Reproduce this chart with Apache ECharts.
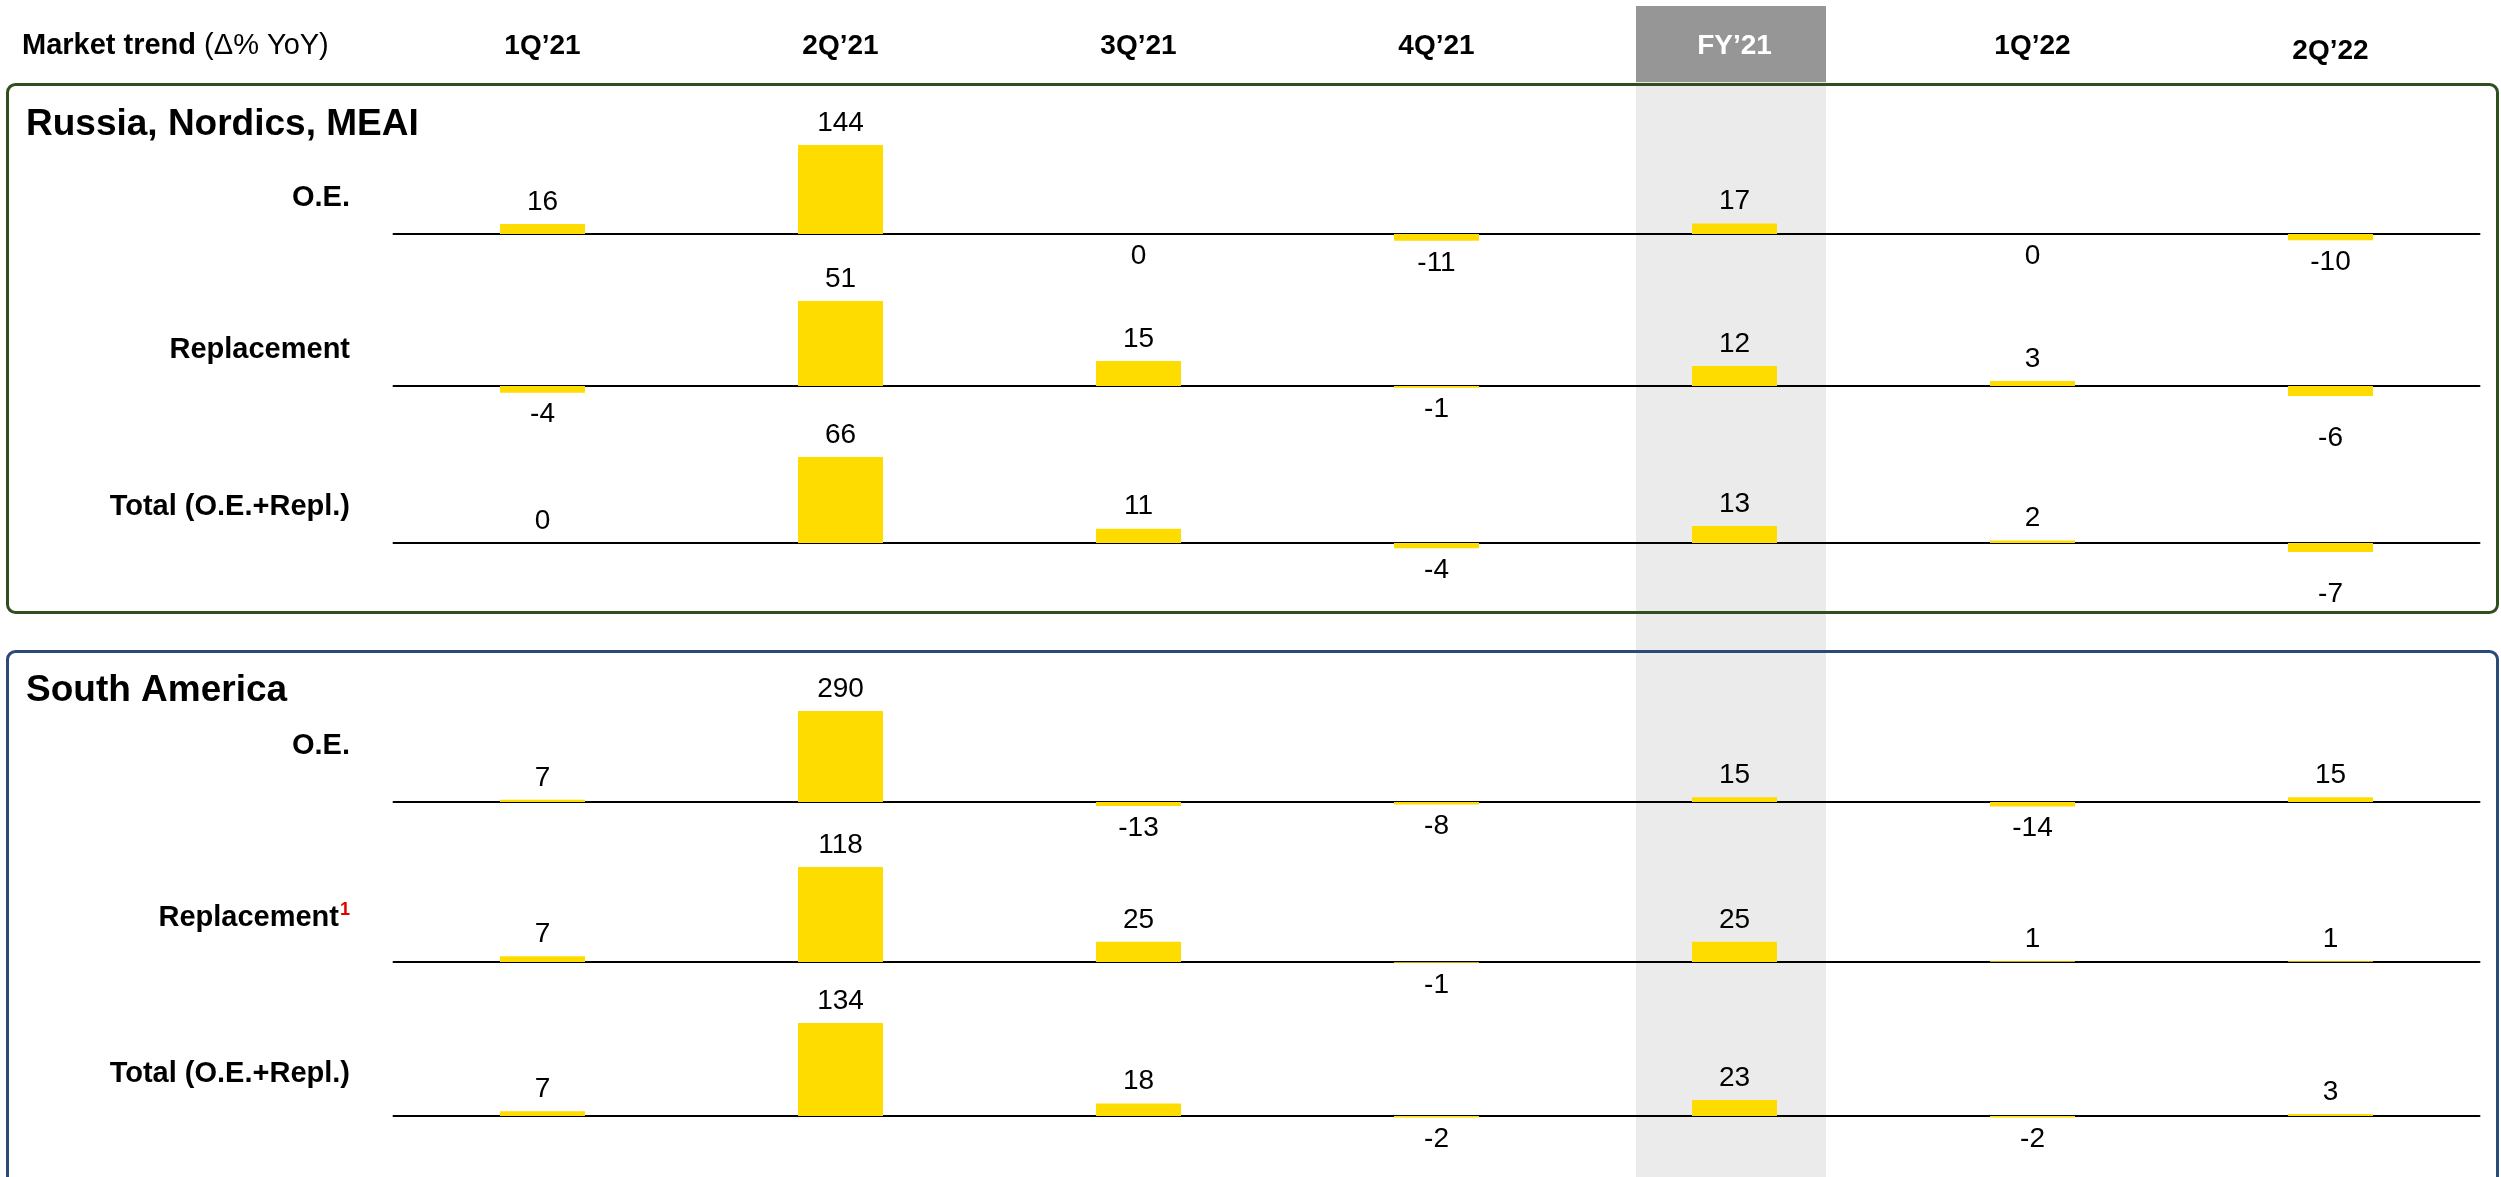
<!DOCTYPE html>
<html>
<head>
<meta charset="utf-8">
<script src="https://cdn.jsdelivr.net/npm/echarts@6/dist/echarts.min.js"></script>
<style>
  html, body { margin: 0; padding: 0; background: #ffffff; }
  #chart { width: 2501px; height: 1177px; }
</style>
</head>
<body>
<div id="chart"></div>
<script>
// Periods shown across the top
const categories = ['1Q’21', '2Q’21', '3Q’21', '4Q’21', 'FY’21', '1Q’22', '2Q’22'];

// Russia, Nordics, MEAI  (Δ% YoY)
const rnmOE = [16, 144, 0, -11, 17, 0, -10];
const rnmReplacement = [-4, 51, 15, -1, 12, 3, -6];
const rnmTotal = [0, 66, 11, -4, 13, 2, -7];

// South America  (Δ% YoY)
const saOE = [7, 290, -13, -8, 15, -14, 15];
const saReplacement = [7, 118, 25, -1, 25, 1, 1];
const saTotal = [7, 134, 18, -2, 23, -2, 3];

const FONT = '"Liberation Sans", Arial, Helvetica, sans-serif';
const BAR_COLOR = '#FFDC00';
const PLOT_LEFT = 393.5;
const PLOT_WIDTH = 2086;
const ROOM_BELOW = 60;

// Each row is its own small chart: zero line y, pixel height of its tallest bar,
// caption and caption position, plus an optional extra drop for some value labels.
const rows = [
  { data: rnmOE,          zero: 234,  tall: 89, caption: 'O.E.',               captionY: 198, zeroBelow: true },
  { data: rnmReplacement, zero: 386,  tall: 85, caption: 'Replacement',        captionY: 350, drop: { 6: 20 } },
  { data: rnmTotal,       zero: 543,  tall: 86, caption: 'Total (O.E.+Repl.)', captionY: 507, drop: { 6: 20 } },
  { data: saOE,           zero: 802,  tall: 91, caption: 'O.E.',               captionY: 746 },
  { data: saReplacement,  zero: 962,  tall: 95, caption: 'Replacement',        captionY: 918, note: '1' },
  { data: saTotal,        zero: 1116, tall: 93, caption: 'Total (O.E.+Repl.)', captionY: 1074 }
];

const grids = [], xAxes = [], yAxes = [], series = [];

rows.forEach((row, i) => {
  const vmax = Math.max(...row.data.map(v => Math.abs(v)));
  grids.push({
    left: PLOT_LEFT, width: PLOT_WIDTH,
    top: row.zero - row.tall, height: row.tall + ROOM_BELOW,
    containLabel: false
  });
  xAxes.push({
    type: 'category', gridIndex: i, data: categories,
    axisLine: { show: true, onZero: true, lineStyle: { color: '#000000', width: 2 } },
    axisTick: { show: false }, axisLabel: { show: false }, splitLine: { show: false }
  });
  yAxes.push({
    type: 'value', gridIndex: i, show: false,
    min: -vmax * ROOM_BELOW / row.tall, max: vmax,
    splitLine: { show: false }
  });
  series.push({
    type: 'bar', xAxisIndex: i, yAxisIndex: i,
    barWidth: 85,
    itemStyle: { color: BAR_COLOR },
    label: {
      show: true, fontFamily: FONT, fontSize: 28, color: '#000000', distance: 8
    },
    data: row.data.map((v, k) => {
      const label = { position: (v < 0 || (v === 0 && row.zeroBelow)) ? 'bottom' : 'top' };
      if (row.drop && row.drop[k]) label.offset = [0, row.drop[k]];
      return { value: v, label: label };
    }),
    z: 3
  });
});

// Column headings along the top
grids.push({ left: PLOT_LEFT, width: PLOT_WIDTH, top: 46, height: 1 });
xAxes.push({
  type: 'category', gridIndex: rows.length, data: categories, position: 'top',
  axisLine: { show: false }, axisTick: { show: false },
  axisLabel: {
    show: true, margin: 0, verticalAlign: 'middle',
    formatter: (val, idx) => idx === 4 ? '{w|' + val + '}' : (idx === 6 ? '{d|' + val + '}' : '{n|' + val + '}'),
    rich: {
      n: { fontFamily: FONT, fontSize: 28, fontWeight: 'bold', color: '#000000' },
      w: { fontFamily: FONT, fontSize: 28, fontWeight: 'bold', color: '#ffffff' },
      d: { fontFamily: FONT, fontSize: 28, fontWeight: 'bold', color: '#000000', padding: [10, 0, 0, 0] }
    }
  }
});
yAxes.push({ type: 'value', gridIndex: rows.length, show: false });

const graphics = [
  // full-year column highlight
  { type: 'rect', z: -20, shape: { x: 1636, y: 82, width: 190, height: 1100 }, style: { fill: '#EBEBEB' } },
  { type: 'rect', z: -20, shape: { x: 1636, y: 6, width: 190, height: 76 }, style: { fill: '#969696' } },
  // region panels
  { type: 'rect', z: 10, shape: { x: 7.5, y: 84.5, width: 2490, height: 528, r: 8 },
    style: { fill: 'none', stroke: '#2F4F1F', lineWidth: 3 } },
  { type: 'rect', z: 10, shape: { x: 7.5, y: 651.5, width: 2490, height: 560, r: 8 },
    style: { fill: 'none', stroke: '#2B4A7A', lineWidth: 3 } },
  // heading
  { type: 'text', z: 10, style: {
      x: 22, y: 46, text: '{b|Market trend }{r|(Δ% YoY)}',
      align: 'left', verticalAlign: 'middle', textAlign: 'left', textVerticalAlign: 'middle',
      rich: {
        b: { fontFamily: FONT, fontSize: 29, fontWeight: 'bold', fill: '#000000', color: '#000000' },
        r: { fontFamily: FONT, fontSize: 29, fill: '#000000', color: '#000000' }
      }
  } },
  // panel titles
  { type: 'text', z: 10, style: {
      x: 26, y: 125, text: 'Russia, Nordics, MEAI', fill: '#000000',
      font: 'bold 37px ' + FONT, align: 'left', verticalAlign: 'middle', textAlign: 'left', textVerticalAlign: 'middle'
  } },
  { type: 'text', z: 10, style: {
      x: 26, y: 691, text: 'South America', fill: '#000000',
      font: 'bold 37px ' + FONT, align: 'left', verticalAlign: 'middle', textAlign: 'left', textVerticalAlign: 'middle'
  } }
];

// row captions, right-aligned against the plot area
rows.forEach(row => {
  graphics.push({
    type: 'text', z: 10,
    style: {
      x: 350, y: row.captionY,
      text: row.note ? '{c|' + row.caption + '}{s|' + row.note + '}' : '{c|' + row.caption + '}',
      align: 'right', verticalAlign: 'middle', textAlign: 'right', textVerticalAlign: 'middle',
      rich: {
        c: { fontFamily: FONT, fontSize: 29, fontWeight: 'bold', fill: '#000000', color: '#000000' },
        s: { fontFamily: FONT, fontSize: 18, fontWeight: 'bold', fill: '#E00000', color: '#E00000', padding: [0, 0, 16, 1] }
      }
    }
  });
});

const chart = echarts.init(document.getElementById('chart'), null, { renderer: 'canvas' });
chart.setOption({
  animation: false,
  backgroundColor: '#ffffff',
  grid: grids,
  xAxis: xAxes,
  yAxis: yAxes,
  series: series,
  graphic: { elements: graphics }
});
</script>
</body>
</html>
